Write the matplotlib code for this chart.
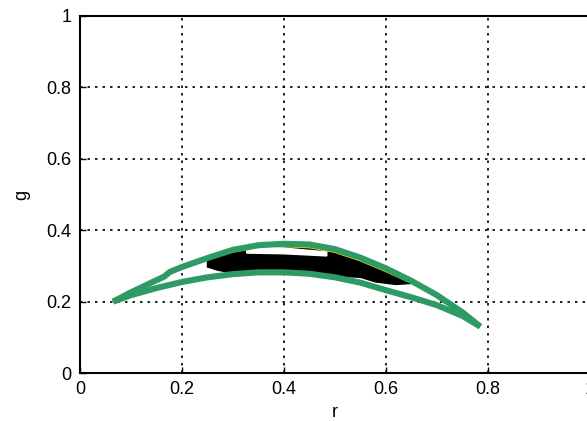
import matplotlib
matplotlib.use("Agg")
import matplotlib.pyplot as plt

plt.rcParams['font.family'] = ['Liberation Sans', 'DejaVu Sans']

# boundary curves (green)
upper_r = [0.065, 0.10, 0.15, 0.165, 0.176, 0.20, 0.25, 0.30, 0.35, 0.40, 0.45, 0.50, 0.55, 0.60, 0.65, 0.70, 0.75, 0.785]
upper_g = [0.200, 0.226, 0.260, 0.270, 0.283, 0.297, 0.322, 0.345, 0.358, 0.362, 0.360, 0.347, 0.323, 0.293, 0.258, 0.218, 0.170, 0.130]
lower_r = [0.065, 0.10, 0.15, 0.20, 0.25, 0.30, 0.35, 0.40, 0.45, 0.50, 0.55, 0.60, 0.65, 0.70, 0.75, 0.785]
lower_g = [0.200, 0.218, 0.238, 0.255, 0.268, 0.277, 0.282, 0.282, 0.278, 0.268, 0.253, 0.232, 0.212, 0.190, 0.160, 0.130]

# skin pixel cluster (black)
blob_r = [0.25, 0.27, 0.30, 0.35, 0.40, 0.45, 0.50, 0.55, 0.60, 0.64, 0.66, 0.62, 0.58, 0.55, 0.50, 0.45, 0.40, 0.35, 0.30, 0.27, 0.25]
blob_g = [0.325, 0.335, 0.343, 0.355, 0.358, 0.355, 0.342, 0.318, 0.288, 0.262, 0.252, 0.248, 0.255, 0.268, 0.272, 0.277, 0.280, 0.281, 0.280, 0.288, 0.297]

# highlight stripe (white)
hl_r = [0.327, 0.40, 0.484, 0.484, 0.40, 0.327]
hl_g = [0.353, 0.350, 0.339, 0.328, 0.334, 0.336]

fig = plt.figure(figsize=(5.87, 4.21), dpi=100)
ax = fig.add_axes([0.1363, 0.114, 0.8687, 0.848])

ax.fill(blob_r, blob_g, color='black', zorder=2)
ax.plot(blob_r[:10], [g - 0.004 for g in blob_g[:10]], color='#e8e000', lw=1, zorder=2)
ax.fill(hl_r, hl_g, color='white', zorder=3)

green = '#2e9a64'
ax.plot(upper_r, upper_g, color=green, lw=4.4, solid_capstyle='butt', zorder=4)
ax.plot(lower_r, lower_g, color=green, lw=4.4, solid_capstyle='butt', zorder=4)

ax.set_xlim(0, 1)
ax.set_ylim(0, 1)
ax.set_xticks([0, 0.2, 0.4, 0.6, 0.8, 1])
ax.set_yticks([0, 0.2, 0.4, 0.6, 0.8, 1])
ax.set_xticklabels(['0', '0.2', '0.4', '0.6', '0.8', '1'])
ax.set_yticklabels(['0', '0.2', '0.4', '0.6', '0.8', '1'])
ax.tick_params(direction='in', length=4, width=1, labelsize=13, pad=6)
ax.grid(True, color='black', linestyle=(0, (1.5, 3)), linewidth=1.2)
for s in ax.spines.values():
    s.set_linewidth(1.5)

ax.set_xlabel('r', fontsize=13, labelpad=4)
ax.set_ylabel('g', fontsize=13, labelpad=12)

fig.savefig('out.png', dpi=100)
